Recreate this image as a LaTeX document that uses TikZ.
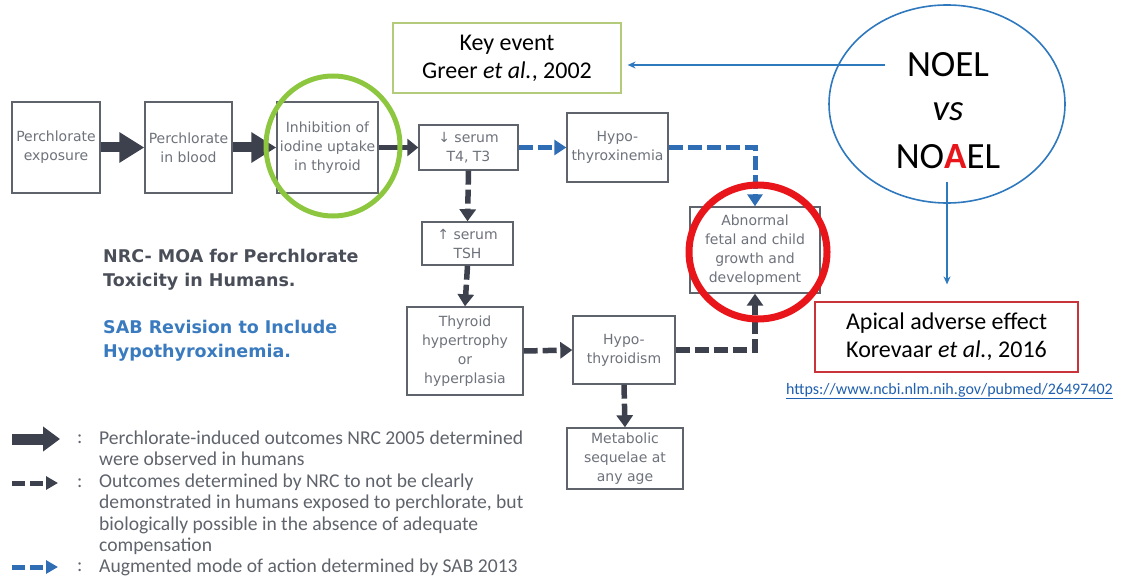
\documentclass[tikz,border=0pt]{standalone}
\usepackage{fontspec}
\setmainfont{Carlito}
\newfontfamily\vfont{DejaVu Sans}
\usetikzlibrary{arrows.meta,shapes.geometric}

\definecolor{arrdark}{HTML}{3D414D}
\definecolor{boxline}{HTML}{5F636C}
\definecolor{boxtext}{HTML}{6E727B}
\definecolor{flowblue}{HTML}{2F6DB5}
\definecolor{titlegray}{HTML}{4A4E58}
\definecolor{sabblue}{HTML}{3A7BBF}
\definecolor{ringgreen}{HTML}{8DC63F}
\definecolor{ringred}{HTML}{E8161B}
\definecolor{keyline}{HTML}{B3CB7A}
\definecolor{apline}{HTML}{C9343A}
\definecolor{ovalblue}{HTML}{2E78BE}
\definecolor{linkblue}{HTML}{1F5FAF}
\definecolor{legtext}{HTML}{5F636B}

\tikzset{
  mbox/.style={draw=boxline, line width=1.4pt, fill=white, align=center,
    text=boxtext, font=\vfont\fontsize{14}{19}\selectfont, inner sep=0pt},
  bigarrow/.style={draw=arrdark, line width=10pt,
    -{Triangle[length=25pt,width=29pt]}},
  thinarrow/.style={draw=arrdark, line width=5pt,
    -{Triangle[length=11pt,width=17pt]}},
  dasharrow/.style={draw=arrdark, line width=5.5pt, dash pattern=on 14pt off 5pt,
    -{Triangle[length=12pt,width=16pt]}},
  bluedash/.style={draw=flowblue, line width=5pt, dash pattern=on 14pt off 5pt,
    -{Triangle[length=12pt,width=15pt]}},
  legbig/.style={draw=arrdark, line width=11pt,
    -{Triangle[length=17pt,width=24pt]}},
  legdash/.style={line width=5pt, dash pattern=on 13pt off 5pt,
    -{Triangle[length=12pt,width=13pt]}},
  thinblue/.style={draw=ovalblue, line width=1.6pt,
    -{Stealth[length=8pt,width=7pt]}},
  legendtxt/.style={anchor=west, align=left, text=legtext,
    font=\fontsize{19.6}{21.5}\selectfont, inner sep=0pt},
  citebox/.style={line width=1.2pt, align=center, inner sep=0pt,
    font=\fontsize{24}{28}\selectfont},
}

\begin{document}
\begin{tikzpicture}[x=1pt,y=-1pt]
\useasboundingbox (0,0) rectangle (1126,580);

% ---- pathway boxes ----
\node[mbox, minimum width=88pt, minimum height=91pt] (expo) at (56,147.5) {Perchlorate\\exposure};
\node[mbox, minimum width=87pt, minimum height=91pt] (blood) at (188.5,147.5) {Perchlorate\\in blood};
\node[mbox, minimum width=101pt, minimum height=91pt] (inhib) at (327.5,147.5) {Inhibition of\\iodine uptake\\in thyroid};
\node[mbox, minimum width=99pt, minimum height=45pt] (t4) at (468.5,147.5) {↓ serum\\T4, T3};
\node[mbox, minimum width=101pt, minimum height=69pt] (hypox) at (617.5,147.5) {Hypo-\\thyroxinemia};
\node[mbox, minimum width=130pt, minimum height=86pt] (abn) at (755,250) {Abnormal\\fetal and child\\growth and\\development};
\node[mbox, minimum width=91pt, minimum height=43pt] (tsh) at (467.5,243.5) {↑ serum\\TSH};
\node[mbox, minimum width=116pt, minimum height=88pt] (hyper) at (465,351) {Thyroid\\hypertrophy\\or\\hyperplasia};
\node[mbox, minimum width=102pt, minimum height=68pt] (hypot) at (624,350) {Hypo-\\thyroidism};
\node[mbox, minimum width=116pt, minimum height=61pt] (meta) at (625,458.5) {Metabolic\\sequelae at\\any age};

% ---- observed steps ----
\draw[bigarrow] (expo.east) -- (blood.west);
\draw[bigarrow] (blood.east) -- (inhib.west);
\draw[thinarrow] (inhib.east) -- (t4.west);

% ---- biologically possible steps ----
\draw[dasharrow] (t4.south) -- (tsh.north);
\draw[dasharrow] (tsh.south) -- (hyper.north);
\draw[dasharrow] (hyper.east) -- (hypot.west);
\draw[dasharrow] (hypot.east) -| (abn.south);
\draw[dasharrow] (hypot.south) -- (meta.north);

% ---- SAB additions ----
\draw[bluedash] (t4.east) -- (hypox.west);
\draw[bluedash] (hypox.east) -| (abn.north);

% ---- highlight rings ----
\draw[ringgreen, line width=5pt] (333,146) ellipse [x radius=67pt, y radius=70pt];
\draw[ringred, line width=7pt] (758,252) ellipse [x radius=69pt, y radius=67pt];

% ---- headings ----
\node[anchor=west, align=left, inner sep=0pt, text=titlegray,
  font=\vfont\bfseries\fontsize{17.5}{24.5}\selectfont] (nrc) at (103,269.5)
  {NRC- MOA for Perchlorate\\Toxicity in Humans.};
\node[anchor=west, align=left, inner sep=0pt, text=sabblue,
  font=\vfont\bfseries\fontsize{17.5}{23.5}\selectfont] (sab) at (103,340.5)
  {SAB Revision to Include\\Hypothyroxinemia.};

% ---- legend ----
\coordinate (la1) at (12,439); \coordinate (lb1) at (60,439);
\coordinate (la2) at (12,483); \coordinate (lb2) at (58,483);
\coordinate (la3) at (12,567); \coordinate (lb3) at (58,567);
\draw[legbig] (la1) -- (lb1);
\draw[legdash, draw=arrdark] (la2) -- (lb2);
\draw[legdash, draw=flowblue] (la3) -- (lb3);
\node[legendtxt] (c1) at (77,439) {:};
\node[legendtxt] (c2) at (77,483) {:};
\node[legendtxt] (c3) at (77,567) {:};
\node[legendtxt] (t1) at (99,448.5) {Perchlorate-induced outcomes NRC 2005 determined\\were observed in humans};
\node[legendtxt] (t2) at (99,514.5) {Outcomes determined by NRC to not be clearly\\demonstrated in humans exposed to perchlorate, but\\biologically possible in the absence of adequate\\compensation};
\node[legendtxt] (t3) at (99,567.5) {Augmented mode of action determined by SAB 2013};

% ---- NOEL / NOAEL call-out ----
\node[draw=ovalblue, line width=1.6pt, ellipse, minimum width=236pt, minimum height=198pt, inner sep=0pt] (oval) at (947,104) {};
\node[font=\fontsize{37}{40}\selectfont, inner sep=0pt] (noel) at (948,65) {NOEL};
\node[font=\itshape\fontsize{37}{40}\selectfont, inner sep=0pt] (vs) at (948,112) {vs};
\node[font=\fontsize{37}{40}\selectfont, inner sep=0pt] (noael) at (948,157) {NO\textcolor{ringred}{\bfseries A}EL};

\node[citebox, draw=keyline, minimum width=228pt, minimum height=70pt] (key) at (507,58)
  {Key event\\Greer \textit{et al.}, 2002};
\node[citebox, draw=apline, minimum width=263pt, minimum height=70pt] (apical) at (946.5,337)
  {Apical adverse effect\\Korevaar \textit{et al.}, 2016};

\coordinate (ovalleft) at (885,65);
\coordinate (ovalbot) at (947,182);
\draw[thinblue, shorten >=6pt] (ovalleft) -- (ovalleft -| key.east);
\draw[thinblue, shorten >=17pt] (ovalbot) -- (ovalbot |- apical.north);

\node[anchor=west, inner sep=0pt, text=linkblue, font=\fontsize{16}{18}\selectfont] (url) at (786,391)
  {\underline{https://www.ncbi.nlm.nih.gov/pubmed/26497402}};
\end{tikzpicture}
\end{document}
